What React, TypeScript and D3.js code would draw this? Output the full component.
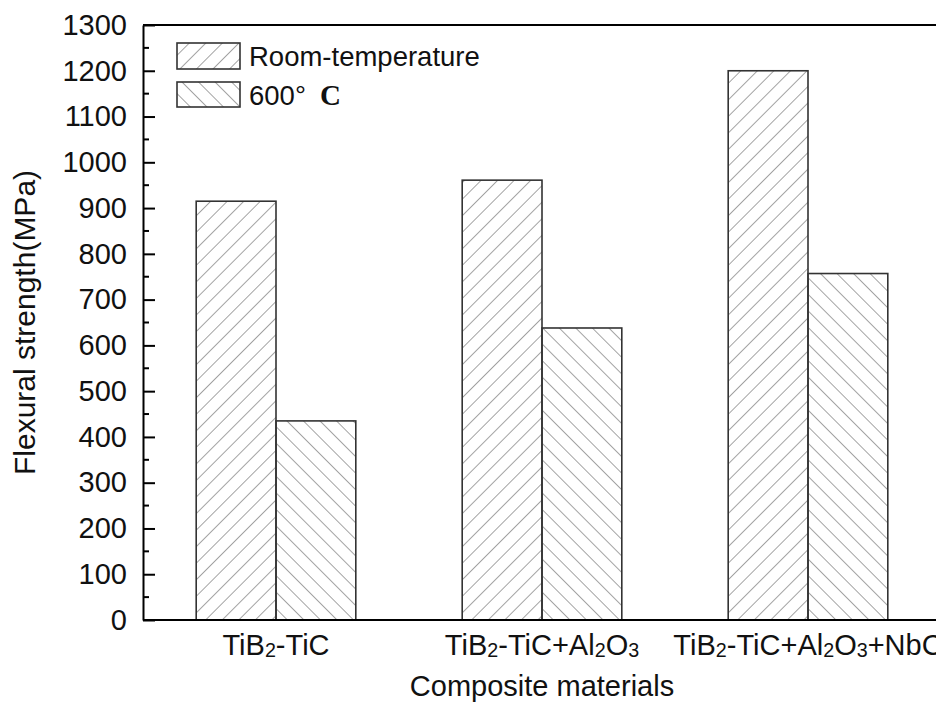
import React, { useEffect, useRef } from 'react';
import * as d3 from 'd3';

// values (MPa)
const categories = ['TiB2-TiC', 'TiB2-TiC+Al2O3', 'TiB2-TiC+Al2O3+NbC'];
const seriesNames = ['Room-temperature', '600C'];
const roomTemp = [915, 961, 1200];
const hot600 = [435, 638, 757];
const yTicks = [0, 100, 200, 300, 400, 500, 600, 700, 800, 900, 1000, 1100, 1200, 1300];

const W = 936;
const H = 704;
const left = 143;
const right = 941; // frame runs off the picture on the right
const top = 25;
const bottom = 620;

const sans = '"Liberation Sans", Arial, sans-serif';

// split "TiB2-TiC" into text + subscript digits
function chem(label: string, size: number) {
  const parts = label.split(/(\d+)/).filter((p) => p !== '');
  return parts.map((p, i) =>
    /^\d+$/.test(p) ? (
      <tspan key={i} fontSize={size * 0.68} dy={2}>{p}</tspan>
    ) : (
      <tspan key={i} dy={i > 0 && /^\d+$/.test(parts[i - 1]) ? -2 : 0}>{p}</tspan>
    )
  );
}

export default function App() {
  const yAxisRef = useRef<SVGGElement>(null);

  const x0 = d3.scaleBand<string>().domain(categories).range([left, right]).paddingInner(0.4).paddingOuter(0.2);
  const x1 = d3.scaleBand<string>().domain(seriesNames).range([0, x0.bandwidth()]);
  const y = d3.scaleLinear().domain([0, 1300]).range([bottom, top]);

  const values: Record<string, number[]> = { 'Room-temperature': roomTemp, '600C': hot600 };
  const fills: Record<string, string> = { 'Room-temperature': 'url(#hatchRT)', '600C': 'url(#hatchHot)' };

  useEffect(() => {
    const g = d3.select(yAxisRef.current);
    g.selectAll('*').remove();
    // minor ticks
    const minor = d3.range(50, 1300, 100);
    g.selectAll('line.minor')
      .data(minor)
      .enter()
      .append('line')
      .attr('class', 'minor')
      .attr('x1', 0)
      .attr('x2', 6)
      .attr('y1', (d) => y(d))
      .attr('y2', (d) => y(d))
      .attr('stroke', '#000')
      .attr('stroke-width', 2);
    const axis = d3
      .axisLeft(y)
      .tickValues(yTicks)
      .tickFormat(d3.format('d'))
      .tickSizeInner(-12)
      .tickSizeOuter(0)
      .tickPadding(16);
    const ag = g.append('g').call(axis);
    ag.select('.domain').attr('stroke-width', 2);
    ag.selectAll('.tick line').attr('stroke-width', 2);
    ag.selectAll('.tick text').attr('font-family', sans).attr('font-size', 29).attr('fill', '#111');
  }, []);

  return (
    <svg width={W} height={H} style={{ position: 'absolute', left: 0, top: 0, background: '#fff' }}>
      <defs>
        <pattern id="hatchRT" patternUnits="userSpaceOnUse" width={11.7} height={11.7} patternTransform="rotate(45)">
          <line x1={0} y1={0} x2={0} y2={11.7} stroke="#666" strokeWidth={1.2} />
        </pattern>
        <pattern id="hatchHot" patternUnits="userSpaceOnUse" width={11.7} height={11.7} patternTransform="rotate(-45)">
          <line x1={0} y1={0} x2={0} y2={11.7} stroke="#666" strokeWidth={1.2} />
        </pattern>
      </defs>

      {/* bars */}
      {categories.map((c, ci) => (
        <g key={c} transform={`translate(${x0(c)},0)`}>
          {seriesNames.map((s) => (
            <rect
              key={s}
              x={x1(s)}
              y={y(values[s][ci])}
              width={x1.bandwidth()}
              height={bottom - y(values[s][ci])}
              fill={fills[s]}
              stroke="#333"
              strokeWidth={1.6}
            />
          ))}
        </g>
      ))}

      {/* frame */}
      <line x1={left} x2={right} y1={top} y2={top} stroke="#000" strokeWidth={2} />
      <line x1={left} x2={right} y1={bottom} y2={bottom} stroke="#000" strokeWidth={2} />
      <g ref={yAxisRef} transform={`translate(${left},0)`} />

      {/* x labels */}
      {categories.map((c) => (
        <text
          key={c}
          x={(x0(c) as number) + x0.bandwidth() / 2}
          y={655}
          textAnchor="middle"
          fontFamily={sans}
          fontSize={29}
          fill="#111"
        >
          {chem(c, 29)}
        </text>
      ))}

      <text x={(left + right) / 2} y={696} textAnchor="middle" fontFamily={sans} fontSize={29} fill="#111">
        Composite materials
      </text>
      <text
        transform={`translate(35,${(top + bottom) / 2}) rotate(-90)`}
        textAnchor="middle"
        fontFamily={sans}
        fontSize={30}
        fill="#111"
      >
        Flexural strength(MPa)
      </text>

      {/* legend */}
      <g>
        <rect x={177} y={43} width={63} height={26} fill="url(#hatchRT)" stroke="#333" strokeWidth={1.6} />
        <text x={249} y={66} fontFamily={sans} fontSize={27.5} fill="#111">Room-temperature</text>
        <rect x={177} y={82} width={63} height={25} fill="url(#hatchHot)" stroke="#333" strokeWidth={1.6} />
        <text x={249} y={105} fontFamily={sans} fontSize={27.5} fill="#111">
          600°
          <tspan dx={14} fontFamily='"Liberation Serif", "Times New Roman", serif' fontWeight="bold" fontSize={29}>C</tspan>
        </text>
      </g>
    </svg>
  );
}
